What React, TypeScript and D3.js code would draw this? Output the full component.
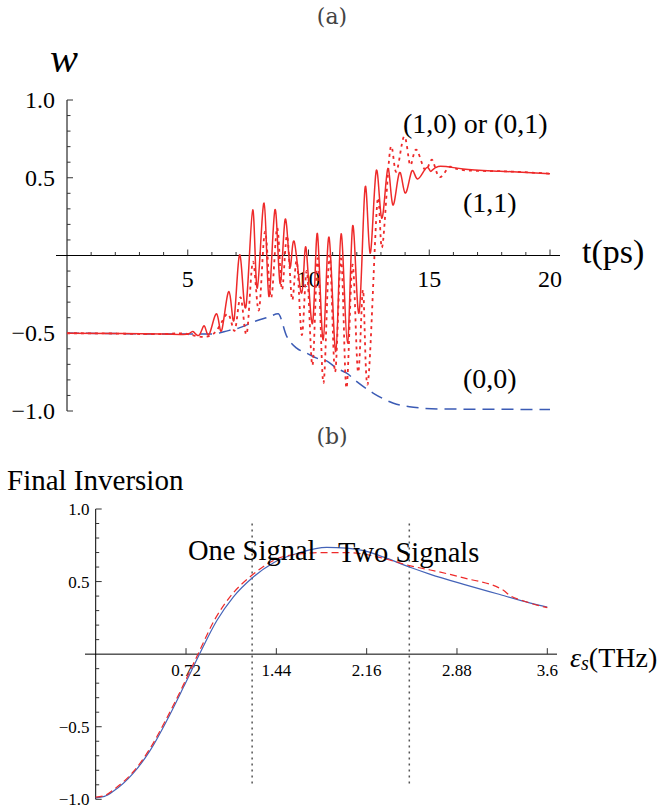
import React from "react";
import * as d3 from "d3";

// ---------- Panel (a) data: time t (ps) vs inversion w ----------
const solidT = [0, 2, 4, 5, 5.23, 5.48, 5.69, 5.89, 6.2, 6.41, 6.71, 6.92, 7.16, 7.41, 7.69, 7.88, 8.16, 8.36, 8.61, 8.82, 9.03, 9.23, 9.41, 9.72, 9.9, 10.17, 10.37, 10.61, 10.85, 11.13, 11.35, 11.61, 11.83, 12.09, 12.34, 12.55, 12.8, 13.03, 13.28, 13.49, 13.76, 14.0, 14.27, 14.51, 14.87, 15.06, 15.37, 16.4, 17.93, 20];
const solidW = [-0.5, -0.502, -0.505, -0.505, -0.489, -0.511, -0.453, -0.506, -0.375, -0.48, -0.232, -0.41, 0.005, -0.328, 0.294, -0.21, 0.337, -0.264, 0.294, -0.178, 0.23, -0.071, 0.09, -0.242, 0.048, -0.435, 0.14, -0.543, 0.118, -0.618, 0.14, -0.564, 0.191, -0.371, 0.434, 0.015, 0.541, 0.241, 0.556, 0.326, 0.531, 0.402, 0.541, 0.492, 0.563, 0.541, 0.573, 0.556, 0.542, 0.526];

const dottedT = [0, 2, 4, 5, 6.06, 6.67, 6.96, 7.2, 7.45, 7.7, 7.95, 8.2, 8.45, 8.7, 8.9, 9.11, 9.32, 9.52, 9.73, 9.94, 10.17, 10.39, 10.62, 10.87, 11.1, 11.35, 11.57, 11.82, 12.05, 12.26, 12.46, 12.84, 13.04, 13.37, 13.62, 13.95, 14.2, 14.45, 14.82, 15.11, 15.4, 15.78, 16.27, 17.93, 20];
const dottedW = [-0.5, -0.502, -0.505, -0.505, -0.504, -0.376, -0.478, -0.272, -0.498, -0.04, -0.35, 0.153, -0.272, 0.178, -0.221, 0.127, -0.285, -0.04, -0.511, -0.105, -0.704, -0.02, -0.82, 0.0, -0.749, -0.02, -0.852, -0.06, -0.749, -0.221, -0.82, 0.326, 0.05, 0.668, 0.539, 0.764, 0.584, 0.681, 0.552, 0.616, 0.507, 0.565, 0.552, 0.542, 0.526];

const dashedT = [0, 2, 4, 5, 6.06, 6.68, 7.16, 7.85, 8.36, 8.74, 9.1, 9.51, 9.93, 10.34, 10.75, 11.17, 11.58, 12.0, 12.69, 13.52, 14.35, 15.45, 20];
const dashedW = [-0.5, -0.502, -0.505, -0.505, -0.504, -0.483, -0.464, -0.42, -0.395, -0.375, -0.52, -0.596, -0.628, -0.66, -0.678, -0.725, -0.757, -0.811, -0.886, -0.95, -0.976, -0.987, -0.99];

const topXTicks = [5, 10, 15, 20];
const topYTicks = [-1.0, -0.5, 0.5, 1.0];

// ---------- Panel (b) data: epsilon_s (THz) vs final inversion ----------
const blueX = [0, 0.07, 0.14, 0.3, 0.433, 0.567, 0.7, 0.827, 0.966, 1.098, 1.247, 1.418, 1.63, 1.84, 2.0, 2.136, 2.296, 2.5, 2.668, 2.934, 3.2, 3.466, 3.6];
const blueY = [-0.99, -0.98, -0.945, -0.82, -0.665, -0.457, -0.227, 0.0, 0.232, 0.395, 0.525, 0.63, 0.7, 0.735, 0.73, 0.713, 0.668, 0.6, 0.55, 0.481, 0.416, 0.352, 0.325];

const redX = [0, 0.07, 0.14, 0.3, 0.433, 0.567, 0.7, 0.81, 0.95, 1.08, 1.247, 1.47, 1.6, 1.82, 2.0, 2.13, 2.35, 2.5, 2.668, 2.934, 3.25, 3.3, 3.4, 3.6];
const redY = [-0.985, -0.975, -0.935, -0.81, -0.65, -0.44, -0.21, -0.01, 0.24, 0.405, 0.545, 0.665, 0.688, 0.7, 0.7, 0.69, 0.647, 0.61, 0.58, 0.525, 0.44, 0.405, 0.37, 0.32];

const botXTicks = [0.72, 1.44, 2.16, 2.88, 3.6];
const botYTicks = [-1.0, -0.5, 0.5, 1.0];
const regionBounds = [1.247, 2.5];

const fmt = (v: number) => (v < 0 ? "\u2212" : "") + Math.abs(v).toFixed(1);
const serif = '"Liberation Serif", "DejaVu Serif", serif';
const T: React.CSSProperties = { fontFamily: serif };

export default function App() {
  const xa = d3.scaleLinear().domain([0, 20]).range([67, 550]);
  const ya = d3.scaleLinear().domain([-1, 1]).range([411, 100]);
  const xb = d3.scaleLinear().domain([0, 3.6]).range([95.7, 547.3]);
  const yb = d3.scaleLinear().domain([-1, 1]).range([799.3, 509]);

  const lineA = (ts: number[], ws: number[]) =>
    d3
      .line<number>()
      .x((_, i) => xa(ts[i]))
      .y((_, i) => ya(ws[i]))
      .curve(d3.curveNatural)(ts) || "";
  const lineA2 = (ts: number[], ws: number[]) =>
    d3
      .line<number>()
      .x((_, i) => xa(ts[i]))
      .y((_, i) => ya(ws[i]))
      .curve(d3.curveMonotoneX)(ts) || "";
  const lineB = (xs: number[], ys: number[]) =>
    d3
      .line<number>()
      .x((_, i) => xb(xs[i]))
      .y((_, i) => yb(ys[i]))
      .curve(d3.curveMonotoneX)(xs) || "";

  const topMinorX = d3.range(1, 21);
  const minorY = d3.range(-10, 11).filter((k) => k !== 0).map((k) => k / 10);
  const isMajorY = (v: number) => Math.abs(Math.abs(v) - 0.5) < 1e-9 || Math.abs(Math.abs(v) - 1) < 1e-9;

  return (
    <svg
      width={661}
      height={811}
      style={{ position: "absolute", left: 0, top: 0, background: "#fff", fontFamily: serif }}
    >
      {/* ---------- panel (a) ---------- */}
      <text x={332} y={24} textAnchor="middle" fontSize={22} fill="#444" style={{ fontFamily: '"DejaVu Serif", serif' }}>(a)</text>
      <text x={50} y={72} fontSize={42} fontStyle="italic" style={T}>w</text>

      <line x1={56} x2={560} y1={ya(0)} y2={ya(0)} stroke="#000" strokeWidth={1} />
      <line x1={xa(0)} x2={xa(0)} y1={ya(1)} y2={ya(-1)} stroke="#000" strokeWidth={1} />
      {topMinorX.map((t) => (
        <line key={"tx" + t} x1={xa(t)} x2={xa(t)} y1={ya(0)} y2={ya(0) - (t % 5 === 0 ? 6 : 3.5)} stroke="#333" strokeWidth={1} />
      ))}
      {minorY.map((v) => (
        <line key={"ty" + v} x1={xa(0)} x2={xa(0) + (isMajorY(v) ? 6 : 3.5)} y1={ya(v)} y2={ya(v)} stroke="#333" strokeWidth={1} />
      ))}
      {topXTicks.map((t) => (
        <text key={"lx" + t} x={xa(t)} y={287} textAnchor="middle" fontSize={24} style={T}>{t}</text>
      ))}
      {topYTicks.map((v) => (
        <text key={"ly" + v} x={55} y={ya(v) + 8} textAnchor="end" fontSize={24} style={T}>{fmt(v)}</text>
      ))}
      <text x={582} y={263} fontSize={34} style={T}>t(ps)</text>

      <path d={lineA2(dashedT, dashedW)} fill="none" stroke="#3b5bb5" strokeWidth={1.5} strokeDasharray="12,7" />
      <path d={lineA(dottedT, dottedW)} fill="none" stroke="#ee2a2a" strokeWidth={1.8} strokeDasharray="3,4" />
      <path d={lineA(solidT, solidW)} fill="none" stroke="#ee2a2a" strokeWidth={1.5} />

      <text x={403} y={133} fontSize={28} style={T}>(1,0) or (0,1)</text>
      <text x={463} y={212} fontSize={28} style={T}>(1,1)</text>
      <text x={463} y={388} fontSize={28} style={T}>(0,0)</text>

      {/* ---------- panel (b) ---------- */}
      <text x={332} y={444} textAnchor="middle" fontSize={22} fill="#444" style={{ fontFamily: '"DejaVu Serif", serif' }}>(b)</text>
      <text x={7} y={490} fontSize={29} style={T}>Final Inversion</text>

      <line x1={85} x2={557} y1={yb(0)} y2={yb(0)} stroke="#000" strokeWidth={1} />
      <line x1={xb(0)} x2={xb(0)} y1={yb(1)} y2={yb(-1)} stroke="#000" strokeWidth={1} />
      {botXTicks.map((t) => (
        <line key={"bx" + t} x1={xb(t)} x2={xb(t)} y1={yb(0)} y2={yb(0) - 6} stroke="#333" strokeWidth={1} />
      ))}
      {minorY.map((v) => (
        <line key={"by" + v} x1={xb(0)} x2={xb(0) + (isMajorY(v) ? 6 : 3.5)} y1={yb(v)} y2={yb(v)} stroke="#333" strokeWidth={1} />
      ))}
      {botXTicks.map((t) => (
        <text key={"bl" + t} x={xb(t)} y={676} textAnchor="middle" fontSize={17} style={T}>{String(t)}</text>
      ))}
      {botYTicks.map((v) => (
        <text key={"bly" + v} x={89.5} y={yb(v) + 6} textAnchor="end" fontSize={17} style={T}>{fmt(v)}</text>
      ))}
      <text x={570} y={667} fontSize={28} style={T}>
        <tspan fontStyle="italic">ε</tspan>
        <tspan fontStyle="italic" fontSize={20} dy={3}>s</tspan>
        <tspan dy={-3}>(THz)</tspan>
      </text>

      {regionBounds.map((b) => (
        <line key={"rb" + b} x1={xb(b)} x2={xb(b)} y1={yb(0.9)} y2={yb(-0.9)} stroke="#555" strokeWidth={1.5} strokeDasharray="2,4" />
      ))}

      <path d={lineB(blueX, blueY)} fill="none" stroke="#4463b8" strokeWidth={1.2} />
      <path d={lineB(redX, redY)} fill="none" stroke="#ee2a2a" strokeWidth={1.2} strokeDasharray="7,4" />

      <text x={188} y={560} fontSize={28.5} style={T}>One Signal</text>
      <text x={338} y={562} fontSize={28.5} style={T}>Two Signals</text>
    </svg>
  );
}
